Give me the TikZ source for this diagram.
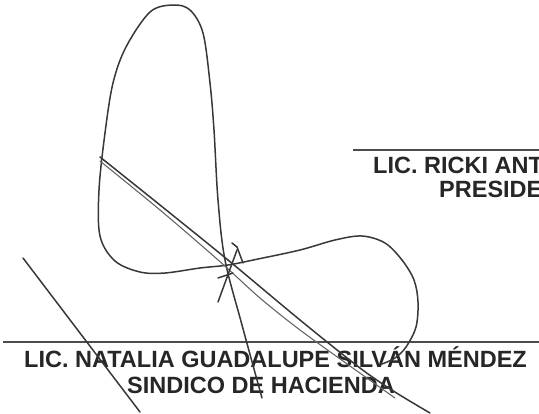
\documentclass[tikz,border=0pt]{standalone}
\usepackage{fontspec}
\setmainfont{Liberation Sans}
\usetikzlibrary{positioning}
\tikzset{
  pen/.style={draw=black!78, line width=1.5pt, line cap=round, line join=round},
  penfino/.style={draw=black!60, line width=1.1pt, line cap=round},
  raya/.style={draw=black!70, line width=1.4pt},
  rotulo/.style={font=\bfseries\fontsize{23.5}{23.5}\selectfont, text=black!85, inner sep=0pt, anchor=base west}
}

\begin{document}
\begin{tikzpicture}[x=1pt,y=-1pt]
            \useasboundingbox (0,0) rectangle (539,413);
            % lineas de firma
            \coordinate (r1a) at (353,150);
            \coordinate (r1b) at (539,150);
            \coordinate (r2a) at (3,342);
            \coordinate (r2b) at (539,342);
            \draw[raya] (r1a) -- (r1b);
            \draw[raya] (r2a) -- (r2b);
            % nombres
            \node[rotulo] (presnombre) at (373,173) {LIC. RICKI ANT};
            \node[rotulo] (prescargo) at (439,197) {PRESIDE};
            \node[rotulo] (sindnombre) at (24,367) {LIC. NATALIA GUADALUPE SILVÁN MÉNDEZ};
            \node[rotulo] (sindcargo) at (127,393) {SINDICO DE HACIENDA};
            % rubrica
            \draw[pen] plot[smooth, tension=0.55] coordinates {(262,398) (242,325) (225,260) (218,200) (214,130) (210,83) (203,33) (190,10) (173,5) (150,12) (126,47) (113,83) (105,133) (99,190) (100,236) (115,261) (140,272) (165,273) (200,268) (228,265) (258,259) (300,250) (335,240) (362,236) (385,243) (402,260) (414,280) (418,302) (416,327) (406,347) (395,358) (382,364)};
            \draw[pen] plot[smooth] coordinates {(100,157) (160,205) (228,260) (300,320) (360,368) (395,392) (430,413)};
            \draw[penfino] plot[smooth] coordinates {(100,161) (160,210) (217,259) (260,298) (300,330) (350,366) (395,398)};
            \draw[pen] (23,258) -- (140,412);
            \draw[pen] (218,302) -- (237,250);
            \draw[pen] (232,243) -- (237,247) -- (243,263);
            \draw[pen] (218,278) -- (233,273);
\end{tikzpicture}
\end{document}
